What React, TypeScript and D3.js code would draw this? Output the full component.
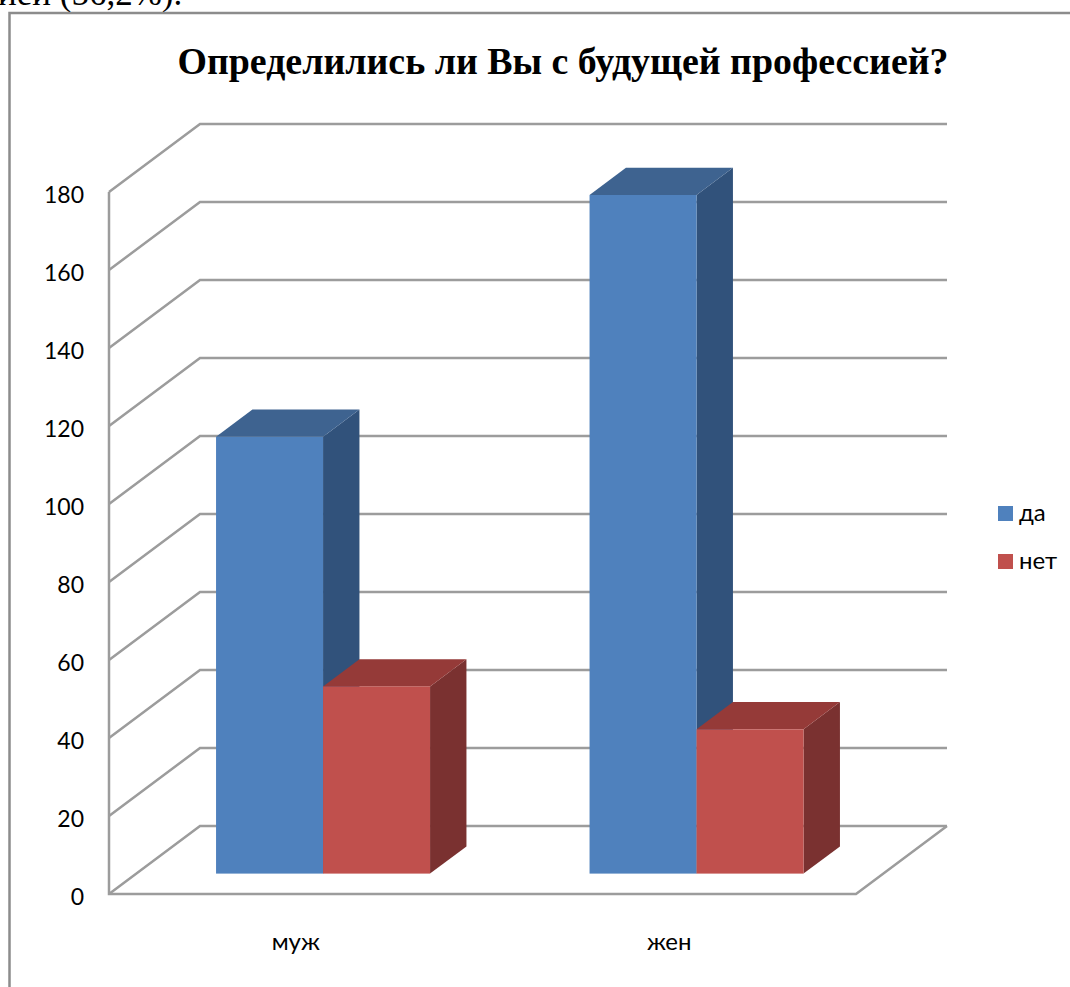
/**
 * Survey chart: pseudo-3D clustered columns, "have you chosen a future profession".
 */
import { useEffect, useRef } from 'react';
import * as d3 from 'd3';

// ─── Data ───────────────────────────────────────────────────

const categories = ['муж', 'жен'];
const seriesNames = ['да', 'нет'];
const daValues = [112, 174];
const netValues = [48, 37];
const yTicks = [0, 20, 40, 60, 80, 100, 120, 140, 160, 180];

const seriesColors = [
  { front: '#4f81bd', top: '#3e6390', side: '#31527b' },
  { front: '#c0504d', top: '#953a38', side: '#7a3130' },
];

const GRID = '#9c9c9c';
const SANS = 'Lato, "Noto Sans", sans-serif';
const SERIF = '"Liberation Serif", serif';

// ─── Component ──────────────────────────────────────────────

export default function App() {
  const svgRef = useRef<SVGSVGElement>(null);

  useEffect(() => {
    if (!svgRef.current) return;
    const svg = d3.select(svgRef.current);
    svg.selectAll('*').remove();

    // Front plane of the box and the depth offset to the back wall
    const left = 109;
    const right = 856;
    const depthX = 91;
    const depthY = -68;
    // Columns sit part of the way into the box
    const barNear = 0.3;
    const barFar = 0.7;

    const y = d3.scaleLinear().domain([0, 180]).range([894, 192]);
    const x0 = d3.scaleBand().domain(categories).range([left, right]);
    const barW = 107;
    const line = d3.line();

    // Text of the page above the chart, cut by the image edge
    svg.append('text')
      .attr('x', -2).attr('y', 4.5)
      .attr('font-family', SERIF).attr('font-size', 35)
      .attr('fill', '#000')
      .text('ией (56,2%).');

    // Chart frame
    svg.append('path')
      .attr('d', line([[9.5, 987], [9.5, 13], [1070, 13]]))
      .attr('fill', 'none').attr('stroke', '#8c8c8c').attr('stroke-width', 2.5);

    svg.append('text')
      .attr('x', 563).attr('y', 74)
      .attr('text-anchor', 'middle')
      .attr('font-family', SERIF).attr('font-weight', 'bold').attr('font-size', 37.9)
      .attr('fill', '#000')
      .text('Определились ли Вы с будущей профессией?');

    // Walls: side wall diagonal + back wall line for every tick
    const grid = svg.append('g').attr('fill', 'none').attr('stroke', GRID).attr('stroke-width', 2.5);
    grid.selectAll('path')
      .data(yTicks)
      .join('path')
      .attr('d', (d) => line([
        [left, y(d)],
        [left + depthX, y(d) + depthY],
        [right + depthX, y(d) + depthY],
      ]));
    // Floor front and right edges, plus the axis line
    grid.append('path').attr('d', line([
      [right + depthX, y(0) + depthY],
      [right, y(0)],
      [left, y(0)],
      [left, y(180)],
    ]));

    // Columns
    categories.forEach((cat, ci) => {
      const center = (x0(cat) ?? 0) + x0.bandwidth() / 2 + depthX * barNear;
      [daValues, netValues].forEach((values, si) => {
        const c = seriesColors[si];
        const xl = center - barW + si * barW;
        const xr = xl + barW;
        const base = y(0) + depthY * barNear;
        const h = y(0) - y(values[ci]);
        const t = base - h;
        const dx = depthX * (barFar - barNear);
        const dy = depthY * (barFar - barNear);
        const g = svg.append('g');
        g.append('path')
          .attr('d', line([[xr, t], [xr + dx, t + dy], [xr + dx, base + dy], [xr, base]]) + 'Z')
          .attr('fill', c.side);
        g.append('path')
          .attr('d', line([[xl, t], [xl + dx, t + dy], [xr + dx, t + dy], [xr, t]]) + 'Z')
          .attr('fill', c.top);
        g.append('rect')
          .attr('x', xl).attr('y', t)
          .attr('width', barW).attr('height', h)
          .attr('fill', c.front);
      });
    });

    // Value labels
    svg.append('g')
      .selectAll('text')
      .data(yTicks)
      .join('text')
      .attr('x', 84)
      .attr('y', (d) => y(d) + 11)
      .attr('text-anchor', 'end')
      .attr('font-family', SANS).attr('font-size', 23)
      .attr('fill', '#000')
      .text((d) => d);

    // Category labels
    svg.append('g')
      .selectAll('text')
      .data(categories)
      .join('text')
      .attr('x', (d) => (x0(d) ?? 0) + x0.bandwidth() / 2)
      .attr('y', 950)
      .attr('text-anchor', 'middle')
      .attr('font-family', SANS).attr('font-size', 24)
      .attr('fill', '#000')
      .text((d) => d);

    // Legend
    const legend = svg.append('g')
      .selectAll('g')
      .data(seriesNames)
      .join('g')
      .attr('transform', (_, i) => `translate(998,${506 + i * 48})`);
    legend.append('rect')
      .attr('width', 15).attr('height', 15)
      .attr('fill', (_, i) => seriesColors[i].front);
    legend.append('text')
      .attr('x', 21).attr('y', 15)
      .attr('font-family', SANS).attr('font-size', 24)
      .attr('fill', '#000')
      .text((d) => d);
  }, []);

  return (
    <svg
      ref={svgRef}
      width={1070}
      height={987}
      style={{ position: 'absolute', left: 0, top: 0, background: '#fff' }}
    />
  );
}
